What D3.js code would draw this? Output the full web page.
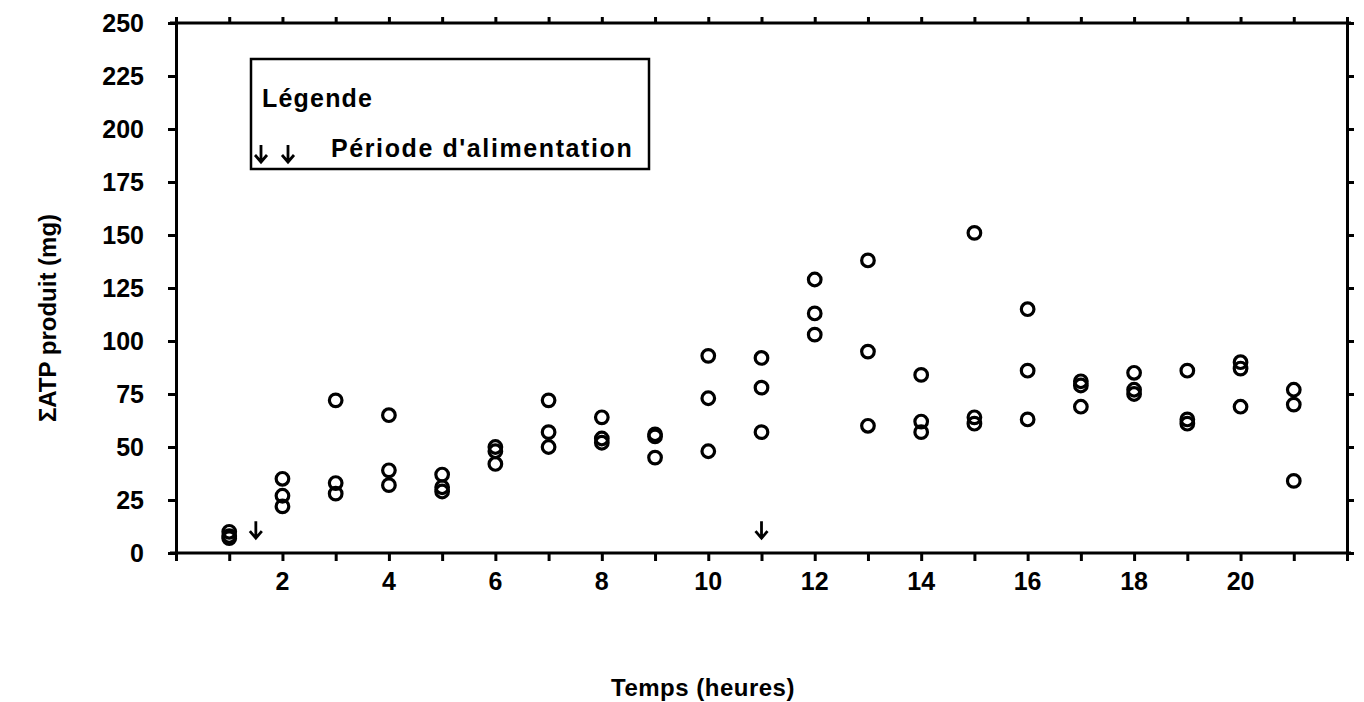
<!DOCTYPE html>
<html>
<head>
<meta charset="utf-8">
<script src="https://cdn.jsdelivr.net/npm/d3@7/dist/d3.min.js"></script>
<style>
  html, body { margin: 0; padding: 0; background: #fff; }
  svg text { font-family: "Liberation Sans", Arial, sans-serif; font-weight: bold; fill: #000; }
</style>
</head>
<body>
<svg id="chart" width="1364" height="702"></svg>
<script>
// Sampling hours and the three replicate measurements at each hour
const hours = [1, 2, 3, 4, 5, 6, 7, 8, 9, 10, 11, 12, 13, 14, 15, 16, 17, 18, 19, 20, 21];
const rep1 = [10, 35, 72, 65, 37, 50, 72, 64, 56, 93, 92, 129, 138, 84, 151, 115, 81, 85, 86, 90, 77];
const rep2 = [8, 27, 33, 39, 31, 48, 57, 54, 55, 73, 78, 113, 95, 62, 64, 86, 79, 77, 63, 87, 70];
const rep3 = [7, 22, 28, 32, 29, 42, 50, 52, 45, 48, 57, 103, 60, 57, 61, 63, 69, 75, 61, 69, 34];

// Feeding times (arrows)
const feedingTimes = [1.5, 11];

const yTicks = [0, 25, 50, 75, 100, 125, 150, 175, 200, 225, 250];
const xLabelTicks = [2, 4, 6, 8, 10, 12, 14, 16, 18, 20];
const xMinorTicks = d3.range(0, 23);

const xTitle = "Temps (heures)";
const yTitle = "\u03A3ATP produit (mg)";
const legendTitle = "Légende";
const legendItem = "Période d'alimentation";

const svg = d3.select("#chart");
const plotLeft = 176, plotRight = 1347, plotTop = 23, plotBottom = 553;

const x = d3.scaleLinear().domain([0, 22]).range([plotLeft, plotRight]);
const y = d3.scaleLinear().domain([0, 250]).range([plotBottom, plotTop]);

// Frame axes: ticks point outward on all four sides
const gB = svg.append("g").attr("transform", `translate(0,${plotBottom})`)
  .call(d3.axisBottom(x).tickValues(xMinorTicks).tickSize(8).tickSizeOuter(0).tickFormat(""));
const gT = svg.append("g").attr("transform", `translate(0,${plotTop})`)
  .call(d3.axisTop(x).tickValues(xMinorTicks).tickSize(6).tickSizeOuter(0).tickFormat(""));
const gL = svg.append("g").attr("transform", `translate(${plotLeft},0)`)
  .call(d3.axisLeft(y).tickValues(yTicks).tickSize(8).tickSizeOuter(0).tickFormat(""));
const gR = svg.append("g").attr("transform", `translate(${plotRight},0)`)
  .call(d3.axisRight(y).tickValues(yTicks).tickSize(7).tickSizeOuter(0).tickFormat(""));

[gB, gT, gL, gR].forEach(g => {
  g.selectAll(".domain").attr("stroke", "#000").attr("stroke-width", 3);
  g.selectAll(".tick line").attr("stroke", "#000").attr("stroke-width", 3);
});
// the horizontal frame lines run slightly past the corners
gB.select(".domain").attr("d", `M${plotLeft - 6},0H${plotRight + 4}`);
gT.select(".domain").attr("d", `M${plotLeft - 6},0H${plotRight + 4}`);

// Tick labels
svg.append("g").selectAll("text").data(xLabelTicks).join("text")
  .attr("x", d => x(d)).attr("y", plotBottom + 37)
  .attr("text-anchor", "middle").attr("font-size", 25)
  .text(d => d);

svg.append("g").selectAll("text").data(yTicks).join("text")
  .attr("x", plotLeft - 32).attr("y", d => y(d) + 9)
  .attr("text-anchor", "end").attr("font-size", 25)
  .text(d => d);

// Axis titles
svg.append("text").attr("x", 703).attr("y", 696)
  .attr("text-anchor", "middle").attr("font-size", 24).attr("letter-spacing", 0.5).text(xTitle);
svg.append("text")
  .attr("transform", `translate(56,${(plotTop + plotBottom) / 2 + 30}) rotate(-90)`)
  .attr("text-anchor", "middle").attr("font-size", 24).text(yTitle);

// Data points: open circles, one per replicate
const points = [];
hours.forEach((h, i) => {
  points.push({ h, v: rep1[i] }, { h, v: rep2[i] }, { h, v: rep3[i] });
});
svg.append("g").selectAll("circle").data(points).join("circle")
  .attr("cx", d => x(d.h)).attr("cy", d => y(d.v)).attr("r", 6.3)
  .attr("fill", "none").attr("stroke", "#000").attr("stroke-width", 3.2);

// Feeding arrows
const arrowPath = (cx, tipY) =>
  `M${cx},${tipY - 17}V${tipY}M${cx - 6},${tipY - 7}L${cx},${tipY}L${cx + 6},${tipY - 7}`;
svg.append("g").selectAll("path").data(feedingTimes).join("path")
  .attr("d", d => arrowPath(x(d), y(7)))
  .attr("fill", "none").attr("stroke", "#000").attr("stroke-width", 2.8);

// Legend
const lg = svg.append("g");
lg.append("rect").attr("x", 251).attr("y", 59).attr("width", 398).attr("height", 110)
  .attr("fill", "#fff").attr("stroke", "#000").attr("stroke-width", 2.5);
lg.append("text").attr("x", 262).attr("y", 107).attr("font-size", 25).attr("letter-spacing", 1.2).text(legendTitle);
lg.append("g").selectAll("path").data([261, 288]).join("path")
  .attr("d", d => arrowPath(d, 162))
  .attr("fill", "none").attr("stroke", "#000").attr("stroke-width", 2.8);
lg.append("text").attr("x", 331).attr("y", 157).attr("font-size", 25).attr("letter-spacing", 1.6).text(legendItem);
</script>
</body>
</html>
